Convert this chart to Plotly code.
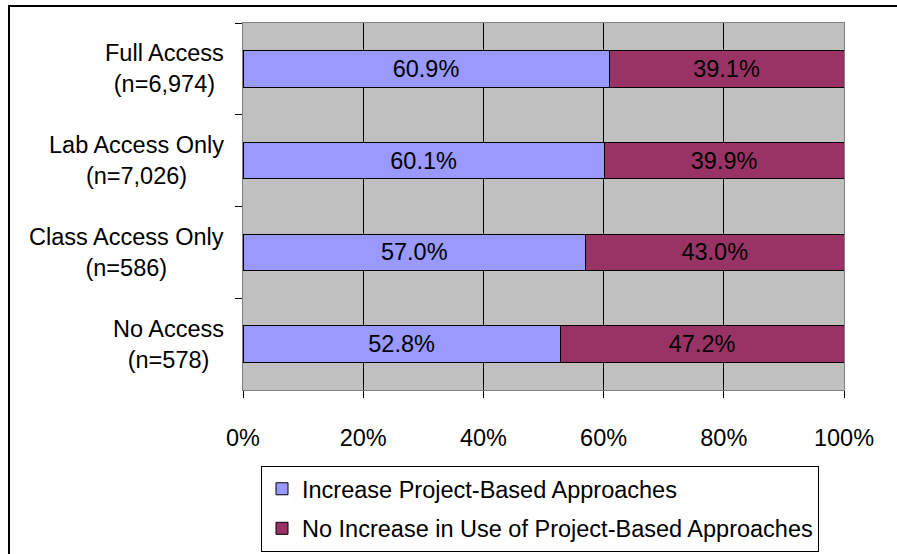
import plotly.graph_objects as go

categories = ["Full Access", "Lab Access Only", "Class Access Only", "No Access"]
sample_sizes = ["n=6,974", "n=7,026", "n=586", "n=578"]
increase = [60.9, 60.1, 57.0, 52.8]
no_increase = [39.1, 39.9, 43.0, 47.2]
x_ticks = [0, 20, 40, 60, 80, 100]
x_tick_labels = ["0%", "20%", "40%", "60%", "80%", "100%"]

W, H = 897, 554
L, R, T, B = 243, 844, 23, 390
FS = 23.5

FONT = "Liberation Sans, Arial, sans-serif"

fig = go.Figure()
fig.add_trace(go.Bar(
    y=categories, x=increase, orientation="h", name="Increase Project-Based Approaches",
    marker=dict(color="#9999FF", line=dict(color="black", width=1)),
    texttemplate="%{x:.1f}%", textposition="inside", insidetextanchor="middle",
    textangle=0, constraintext="none",
    textfont=dict(size=FS, color="black", family=FONT),
    width=0.4, legendgroup="a",
))
fig.add_trace(go.Bar(
    y=categories, x=no_increase, orientation="h", name="No Increase in Use of Project-Based Approaches",
    marker=dict(color="#993366", line=dict(color="black", width=1)),
    texttemplate="%{x:.1f}%", textposition="inside", insidetextanchor="middle",
    textangle=0, constraintext="none",
    textfont=dict(size=FS, color="black", family=FONT),
    width=0.4, legendgroup="b",
))

pw = R - L
ph = B - T

annotations = []
for c, n in zip(categories, sample_sizes):
    annotations.append(dict(
        x=(226 - L) / pw, xref="paper", xanchor="right",
        y=c, yref="y", yanchor="middle",
        text=f"{c}<br>({n})", showarrow=False, align="center",
        font=dict(size=FS, color="black", family=FONT),
    ))

shapes = [dict(
    type="rect", xref="paper", yref="paper",
    x0=(9 - L) / pw, x1=(910 - L) / pw,
    y0=(B - 580) / ph, y1=1 + (T - 6) / ph,
    line=dict(color="black", width=2), fillcolor="rgba(0,0,0,0)", layer="below",
)]

fig.update_layout(
    width=W, height=H,
    margin=dict(l=L, r=W - R, t=T, b=H - B, pad=0, autoexpand=False),
    paper_bgcolor="white", plot_bgcolor="#C0C0C0",
    barmode="stack", bargap=0.6,
    font=dict(family=FONT, size=FS, color="black"),
    showlegend=True,
    legend=dict(
        x=(261 - L) / pw, xanchor="left",
        y=(B - 552) / ph, yanchor="bottom",
        bordercolor="black", borderwidth=1, bgcolor="white",
        font=dict(size=FS, family=FONT, color="black"),
        traceorder="grouped", tracegroupgap=6,
        itemwidth=30,
    ),
    xaxis=dict(
        range=[0, 100], tickvals=x_ticks, ticktext=x_tick_labels,
        showgrid=True, gridcolor="black", gridwidth=1,
        ticks="outside", ticklen=7, tickcolor="black",
        showline=True, linecolor="#808080", linewidth=1, mirror=True,
        ticklabelstandoff=20, zeroline=False,
        tickfont=dict(size=FS, family=FONT, color="black"),
        fixedrange=True,
    ),
    yaxis=dict(
        autorange="reversed", showticklabels=False,
        ticks="outside", ticklen=7, tickcolor="black", tickson="boundaries",
        showgrid=False, showline=True, linecolor="#808080", linewidth=1, mirror=True,
        fixedrange=True,
    ),
    annotations=annotations,
    shapes=shapes,
)

fig.write_html(
    "out.html",
    config={"displayModeBar": False},
    post_script="document.body.style.margin='0px';document.body.style.overflow='hidden';",
)
